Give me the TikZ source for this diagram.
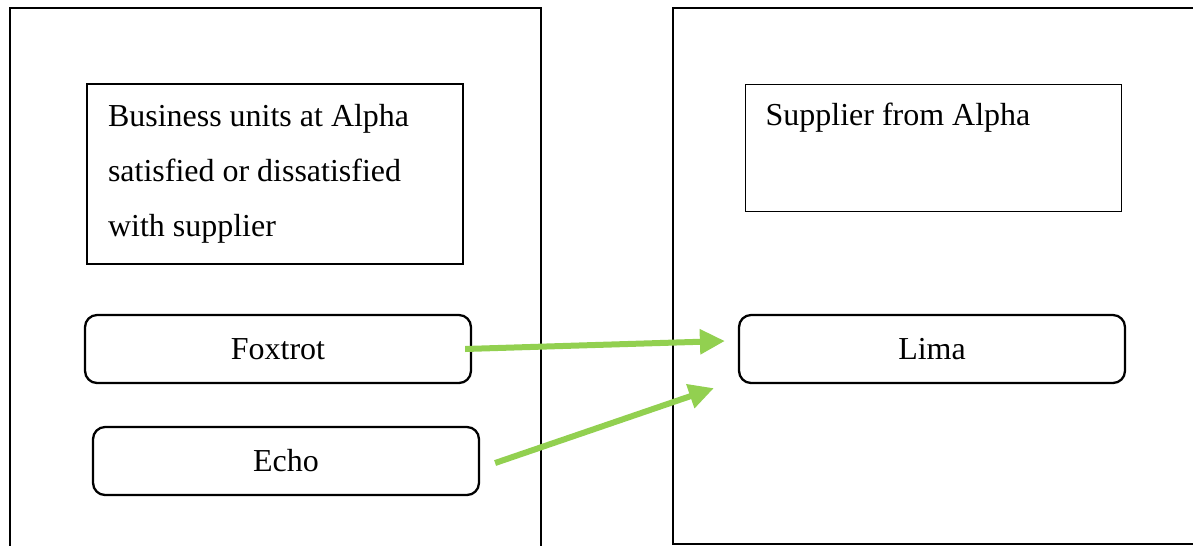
\documentclass[tikz,border=0pt]{standalone}
\usepackage{fontspec}
\setmainfont{Liberation Serif}
\usetikzlibrary{arrows.meta}
\definecolor{linkgreen}{RGB}{146,208,80}
\tikzset{
  frame/.style={draw, line width=1.4pt, inner sep=0pt},
  infobox/.style={draw, line width=0.8pt, inner xsep=0.42cm, align=flush left, font=\fontsize{18.2}{31.3}\selectfont},
  unitbox/.style={draw, line width=1.3pt, rounded corners=0.24cm, minimum width=7.72cm, minimum height=1.36cm, font=\fontsize{18.2}{22}\selectfont},
  link/.style={draw=linkgreen, line width=0.12cm, -{Triangle[length=0.5cm,width=0.48cm]}}
}
\begin{document}
\begin{tikzpicture}[x=0.02cm,y=-0.02cm]
    \useasboundingbox (0,0) rectangle (1193,545);
    \clip (0,0) rectangle (1193,545);

    % alpha side
    \node[frame, minimum width=10.62cm, minimum height=10.94cm] (alphaside) at (275.5,281.5) {};
    \node[infobox, text width=6.68cm, minimum height=3.6cm] (units) at (275,174) {Business units at Alpha\\satisfied or dissatisfied\\with supplier};
    \node[unitbox] (foxtrot) at (278,349) {Foxtrot};
    \node[unitbox] (echo) at (286,461) {Echo};

    % supplier side
    \node[frame, minimum width=10.74cm, minimum height=10.72cm] (supplierside) at (941.5,276) {};
    \node[infobox, anchor=north west, text width=6.72cm, inner xsep=0.4cm, inner ysep=0.3cm, text height=0.52cm, text depth=1.42cm] (supplier) at (745,84) {Supplier from Alpha};
    \node[unitbox] (lima) at (932,349) {Lima};

    % links
    \draw[link] ([xshift=-0.14cm]foxtrot.east) -- ([xshift=-0.26cm,yshift=0.16cm]lima.west);
    \draw[link] ([xshift=0.3cm,yshift=-0.04cm]echo.east) -- ([xshift=-0.48cm,yshift=-0.08cm]lima.south west);
\end{tikzpicture}
\end{document}
